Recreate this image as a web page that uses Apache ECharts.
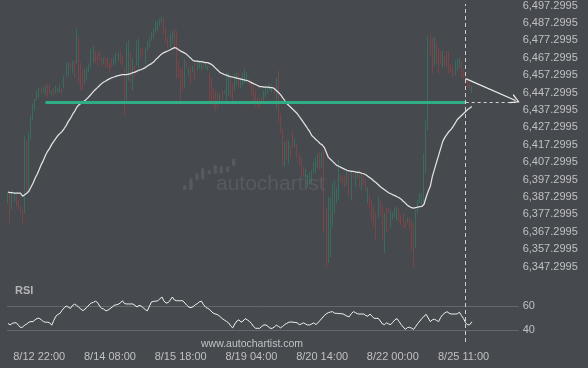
<!DOCTYPE html>
<html>
<head>
<meta charset="utf-8">
<script src="https://cdn.jsdelivr.net/npm/echarts@6/dist/echarts.min.js"></script>
<style>
html,body{margin:0;padding:0;background:#46494e;}
#c{width:588px;height:368px;}
</style>
</head>
<body>
<div id="c"></div>
<script>
// ---- data (hourly bars) ----
const opens = [
6383.7,6389.4,6380.2,6384.2,6388.3,6385.4,6381.9,6379.7,6377.9,6419.8,
6391.1,6419.8,6431.2,6437.0,6442.7,6444.4,6450.7,6447.3,6445.6,6452.4,
6451.9,6445.6,6449.6,6446.7,6447.3,6447.3,6449.6,6449.6,6455.9,6457.0,
6464.5,6458.2,6465.6,6463.9,6478.8,6464.5,6459.9,6452.4,6454.2,6458.7,
6461.6,6464.5,6471.3,6470.2,6471.3,6467.3,6463.9,6467.3,6467.3,6464.5,
6466.8,6462.7,6463.9,6465.6,6471.3,6468.5,6461.6,6442.7,6454.2,6470.2,
6448.4,6462.7,6462.7,6461.6,6473.1,6472.5,6463.9,6471.3,6473.1,6477.1,
6478.8,6481.7,6482.8,6485.7,6487.4,6490.3,6484.5,6478.8,6473.1,6475.4,
6484.0,6482.8,6465.6,6461.6,6461.0,6450.1,6465.6,6457.0,6461.6,6458.7,
6464.5,6459.9,6461.0,6459.9,6465.6,6461.0,6459.9,6458.7,6455.9,6450.1,
6448.4,6447.3,6441.5,6448.4,6446.7,6442.7,6445.6,6455.9,6452.4,6448.4,
6451.3,6458.7,6449.6,6451.3,6452.4,6453.0,6455.3,6454.2,6451.3,6448.4,
6444.4,6443.8,6444.4,6442.7,6444.4,6446.7,6448.4,6447.3,6451.3,6438.1,
6459.9,6435.2,6426.6,6404.3,6419.8,6406.6,6416.9,6425.5,6415.8,6418.0,
6412.3,6410.0,6404.3,6398.0,6392.8,6394.0,6395.7,6400.9,6400.9,6403.7,
6412.9,6404.3,6414.0,6380.8,6349.3,6352.7,6369.9,6377.9,6383.7,6385.4,
6399.7,6399.7,6399.7,6394.0,6400.9,6385.4,6401.4,6392.8,6398.0,6402.6,
6391.1,6400.9,6398.0,6383.7,6388.3,6385.4,6382.5,6378.5,6375.1,6385.4,
6382.5,6355.0,6380.8,6381.4,6369.9,6373.9,6375.6,6373.9,6380.8,6376.8,
6377.9,6373.9,6372.2,6375.1,6373.9,6372.2,6357.9,6377.9,6383.7,6382.5,
6383.7,6400.9,6425.5,6481.1,6478.8,6462.7,6475.9,6472.5,6471.3,6461.6,
6468.5,6471.3,6471.3,6463.9,6462.7,6457.0,6459.9,6461.6,6465.6,6461.0,
6458.7,6454.7,6453.0,6446.7];

const closes = [
6390.0,6372.2,6391.1,6390.0,6381.9,6380.2,6377.9,6371.6,6422.1,6390.0,
6424.3,6434.1,6441.0,6443.8,6448.4,6450.1,6446.7,6450.1,6451.3,6444.4,
6446.7,6448.4,6445.6,6451.3,6450.1,6451.9,6446.7,6457.0,6464.5,6464.5,
6461.0,6465.6,6455.9,6484.0,6452.4,6448.4,6448.4,6461.0,6461.6,6463.9,
6472.5,6474.2,6463.9,6462.7,6465.6,6462.7,6467.3,6461.6,6461.6,6458.7,
6461.6,6467.3,6470.2,6470.2,6463.9,6462.7,6434.1,6475.9,6477.1,6453.0,
6466.8,6455.9,6477.1,6478.2,6466.8,6468.5,6473.1,6477.1,6478.2,6482.2,
6484.0,6488.5,6488.5,6489.7,6490.8,6481.1,6475.9,6473.1,6481.1,6482.8,
6472.5,6455.3,6455.9,6442.7,6448.4,6466.8,6461.6,6461.6,6452.4,6462.7,
6454.2,6465.6,6465.6,6465.6,6461.6,6464.5,6462.7,6442.7,6441.0,6438.7,
6437.0,6438.1,6446.7,6442.7,6448.4,6458.7,6458.7,6444.4,6441.0,6458.2,
6458.7,6450.1,6455.9,6458.7,6461.0,6458.7,6451.3,6445.6,6442.7,6439.8,
6438.7,6438.1,6441.5,6448.4,6451.3,6450.1,6452.4,6451.3,6446.7,6455.9,
6430.1,6423.8,6405.4,6418.6,6408.3,6419.8,6409.5,6415.2,6420.9,6409.5,
6405.4,6399.7,6398.6,6403.7,6399.7,6401.4,6402.6,6407.2,6410.0,6412.3,
6402.6,6412.9,6367.0,6347.0,6387.1,6387.1,6395.1,6396.8,6392.8,6408.3,
6395.7,6395.1,6392.8,6402.6,6387.1,6402.6,6398.0,6401.4,6402.6,6392.8,
6400.9,6394.0,6390.0,6392.8,6380.8,6373.9,6369.9,6362.5,6387.1,6376.8,
6362.5,6377.9,6367.0,6377.9,6379.7,6378.5,6380.8,6381.9,6372.8,6371.1,
6369.3,6369.3,6375.6,6368.2,6356.7,6347.0,6379.7,6385.4,6389.4,6389.4,
6412.3,6431.2,6479.9,6468.5,6458.2,6479.4,6463.9,6458.7,6463.9,6471.3,
6462.7,6461.6,6458.2,6458.7,6455.9,6465.6,6466.8,6467.3,6455.9,6455.3,
6452.4,6450.1,6448.4,6451.3];

const maValues = [
6390.0,6389.7,6389.7,6389.4,6389.4,6389.4,6389.4,6387.7,6388.5,6389.4,
6390.5,6392.8,6395.1,6398.0,6400.3,6403.1,6406.0,6408.3,6411.2,6413.5,
6415.2,6417.5,6419.2,6420.9,6422.6,6423.8,6424.9,6426.6,6428.4,6430.7,
6432.4,6434.7,6436.4,6438.7,6440.1,6441.0,6441.8,6442.7,6443.8,6445.0,
6446.4,6447.8,6449.0,6450.1,6451.3,6452.4,6453.3,6453.9,6454.7,6455.3,
6455.9,6456.2,6456.7,6457.0,6457.3,6457.6,6457.6,6457.6,6457.9,6458.2,
6458.7,6459.0,6459.6,6460.2,6460.5,6461.0,6461.6,6462.5,6463.3,6463.9,
6464.8,6466.2,6467.3,6468.5,6469.6,6470.2,6470.8,6471.3,6471.9,6472.5,
6473.1,6472.8,6471.9,6471.1,6470.5,6469.9,6469.1,6467.9,6466.8,6465.6,
6465.3,6465.3,6465.0,6465.0,6464.8,6464.5,6464.5,6463.9,6463.3,6462.2,
6461.0,6459.9,6458.7,6458.2,6457.6,6457.3,6456.7,6456.4,6456.2,6455.9,
6455.6,6455.3,6455.0,6454.7,6454.4,6454.2,6453.6,6453.0,6452.4,6451.9,
6451.3,6450.7,6450.7,6450.4,6450.4,6450.4,6450.1,6450.1,6449.6,6448.4,
6447.3,6446.1,6444.4,6442.7,6441.0,6439.8,6438.7,6437.5,6436.4,6435.2,
6433.5,6431.8,6430.1,6428.4,6426.6,6424.9,6422.6,6421.5,6420.3,6419.2,
6418.0,6417.2,6415.8,6412.9,6410.0,6408.9,6407.7,6406.6,6405.4,6404.9,
6404.3,6403.7,6403.1,6402.6,6402.3,6402.0,6402.0,6401.7,6401.4,6401.4,
6400.9,6400.6,6400.0,6399.1,6398.3,6397.4,6396.3,6395.4,6394.3,6393.1,
6392.3,6391.4,6390.5,6389.7,6389.1,6388.5,6388.0,6387.4,6386.8,6386.0,
6384.8,6383.7,6382.5,6381.7,6381.1,6380.8,6381.1,6381.4,6381.7,6381.9,
6383.1,6387.1,6390.5,6393.4,6399.1,6403.1,6407.2,6411.2,6415.2,6419.2,
6421.5,6423.2,6424.9,6426.1,6427.8,6429.8,6431.8,6432.9,6434.1,6435.2,
6436.4,6437.5,6438.4,6439.3];

const rsiValues = [
45.5,44.2,45.5,46,46,44,42,42.5,44,45,
46.5,47,47,48.5,49.7,49.7,48.5,47,46.5,46.5,
46,44,48,51.5,53,53.9,56.5,58.5,60,59,
58,60.5,61.5,60.5,59,57.5,56.1,57.5,59,61,
62.5,63,64,63,60,58,57.5,56,56.5,57.8,
59,60.5,61,61.5,62.5,64.4,62,61.7,61.7,61.7,
61.7,60.5,59.2,60.5,60,58.5,57,56,60,63.5,
63.8,64,64.4,66,67.5,64,62.5,62.8,65,67.5,
65,64.4,64.4,64.4,64.4,62.5,60.5,59,58.6,59.5,
61,62,63.5,64,61,59,58,57,55,53.7,
53.2,52.5,51,49.5,48.3,47.2,46,43.5,41.8,45,
47.5,48.5,46.5,47.5,49.5,48.5,47.2,45.5,43,41.4,
41.4,41.4,43,44.2,44.2,43,41.4,41.4,42.5,44,
43,41.8,43,44.5,45.5,46.5,46.7,46.5,46.3,46,
44.5,45,46,45,44.2,44.2,45,46,44.5,46,
48,50,52,53.5,54.5,55,55.3,54,53.9,53.7,
53.6,53.4,52.5,51.5,51,53.5,55.3,54.5,53.5,53.3,
53.3,53.3,52,51.5,53.3,51.5,49.7,49.7,49.7,47.5,
45,44.5,46,45,44.5,46.5,48.5,49.5,47,44.5,
42.5,40.5,42,42.3,41.5,40.5,43,45.5,47.5,49.7,
51.5,53,50,47,48.5,49,48,47,50.5,52.8,
54.2,55.3,54,53.3,53.3,53.3,53.5,54.8,52,49.5,
46,44.2,44.5,46.9];

const priceTicks = [6347.2995,6357.2995,6367.2995,6377.2995,6387.2995,6397.2995,
  6407.2995,6417.2995,6427.2995,6437.2995,6447.2995,6457.2995,6467.2995,
  6477.2995,6487.2995,6497.2995];
const rsiLevels = [40, 60];
const timeLabels = ['8/12 22:00','8/14 08:00','8/15 18:00','8/19 04:00','8/20 14:00','8/22 00:00','8/25 11:00'];
const timeLabelIndex = [15, 49, 83, 117, 151, 185, 219];

// pattern annotation
const supportLevel = 6441.7;
const supportStartIndex = 18;
const currentIndex = 220;
const forecastEndIndex = 244;
const forecastStartPrice = 6455.3;
const forecastEndPrice = 6442.7;
const totalSlots = 246; // bars plus empty space on the right

// ---- build ----
const cats = [];
for (let i = 0; i < totalSlots; i++) cats.push('b' + i);
const ohlc = opens.map((o, i) => [o, closes[i], Math.min(o, closes[i]), Math.max(o, closes[i])]);

const UP = '#1ec283', DOWN = '#f43c3c';
const FONT = 'Liberation Sans, Arial, sans-serif';
const LBL = '#bfc0c2';
const GRID_L = 7, GRID_W = 511.7;

const chart = echarts.init(document.getElementById('c'));
const xBase = {
  type: 'category', data: cats, boundaryGap: true,
  axisLine: {show: false}, axisTick: {show: false}, splitLine: {show: false},
  axisLabel: {show: false}
};
chart.setOption({
  backgroundColor: '#46494e',
  animation: false,
  grid: [
    {left: GRID_L, top: 0, width: GRID_W, height: 279.2},
    {left: GRID_L, top: 294, width: GRID_W, height: 48},
    {left: GRID_L, top: 4, width: GRID_W, height: 338}
  ],
  xAxis: [
    Object.assign({}, xBase, {gridIndex: 0}),
    Object.assign({}, xBase, {gridIndex: 1, axisLabel: {
      show: true, color: LBL, fontSize: 11, fontFamily: FONT, margin: 9,
      interval: (idx) => timeLabelIndex.indexOf(idx) >= 0,
      formatter: (v, idx) => { const k = timeLabelIndex.indexOf(idx); return k >= 0 ? timeLabels[k] : ''; }
    }}),
    Object.assign({}, xBase, {gridIndex: 2})
  ],
  yAxis: [
    {gridIndex: 0, type: 'value', position: 'right', min: 6340, max: 6500,
     axisLine: {show: false}, axisTick: {show: false}, splitLine: {show: false},
     axisLabel: {customValues: priceTicks, color: LBL, fontSize: 11, fontFamily: FONT, margin: 4,
       formatter: (v) => v.toLocaleString('en-US', {minimumFractionDigits: 4, maximumFractionDigits: 4})}},
    {gridIndex: 1, type: 'value', position: 'right', min: 30, max: 70,
     axisLine: {show: false}, axisTick: {show: false}, splitLine: {show: false},
     axisLabel: {customValues: rsiLevels, color: LBL, fontSize: 11, fontFamily: FONT, margin: 4}},
    {gridIndex: 2, type: 'value', min: 0, max: 1, show: false}
  ],
  series: [
    {
      type: 'candlestick', xAxisIndex: 0, yAxisIndex: 0, data: ohlc,
      barWidth: 1.2,
      itemStyle: {color: UP, color0: DOWN, borderColor: UP, borderColor0: DOWN, borderWidth: 0.3}
    },
    {
      type: 'line', xAxisIndex: 0, yAxisIndex: 0, data: maValues, symbol: 'none',
      lineStyle: {color: '#e3e3e3', width: 1.25}, z: 3,
      markLine: {
        silent: true, symbol: ['none', 'none'], label: {show: false}, z: 5,
        data: [
          [{coord: [supportStartIndex, supportLevel], lineStyle: {color: '#2fae86', width: 3, type: 'solid'}},
           {coord: [currentIndex, supportLevel]}],
          [{coord: [currentIndex, supportLevel], lineStyle: {color: '#d2d2d2', width: 1, type: [3, 3]}},
           {coord: [forecastEndIndex, supportLevel]}],
          [{coord: [currentIndex, forecastStartPrice], lineStyle: {color: '#eeeeee', width: 1.2, type: 'solid'}},
           {coord: [forecastEndIndex, forecastEndPrice], symbol: 'path://M0,10 L5,0 L10,10 L8.6,10 L5,2.6 L1.4,10 Z', symbolSize: [10, 9]}]
        ]
      }
    },
    {
      type: 'line', xAxisIndex: 1, yAxisIndex: 1, data: rsiValues, symbol: 'none',
      lineStyle: {color: '#f2f2f2', width: 1}, z: 3,
      markLine: {
        silent: true, symbol: ['none', 'none'], label: {show: false}, z: 1,
        lineStyle: {color: '#63666b', width: 1, type: 'solid'},
        data: rsiLevels.map(v => ({yAxis: v}))
      }
    },
    {
      type: 'line', xAxisIndex: 2, yAxisIndex: 2, data: [[currentIndex, 0.5]], symbol: 'none',
      lineStyle: {width: 0},
      markLine: {
        silent: true, symbol: ['none', 'none'], label: {show: false},
        lineStyle: {color: '#cfcfcf', width: 1, type: [4, 3]},
        data: [{xAxis: currentIndex}]
      }
    }
  ],
  graphic: [
    {type: 'text', left: 15, top: 285, style: {text: 'RSI', fill: '#b4b5b7', font: 'bold 11px ' + FONT}},
    {type: 'text', left: 201, top: 339, style: {text: 'www.autochartist.com', fill: '#c2c3c5', font: '10.5px ' + FONT}},
    {type: 'text', left: 216, top: 174, z: -1, style: {text: 'autochartist', fill: 'rgba(255,255,255,0.09)', font: '21px ' + FONT}},
    {type: 'group', z: -1, children: [
      {type: 'rect', shape: {x: 183, y: 185, width: 3.4, height: 5, r: 1.5}, style: {fill: 'rgba(255,255,255,0.09)'}},
      {type: 'rect', shape: {x: 189.3, y: 178, width: 3.4, height: 12, r: 1.5}, style: {fill: 'rgba(255,255,255,0.09)'}},
      {type: 'rect', shape: {x: 195.3, y: 173, width: 3.4, height: 7.5, r: 1.5}, style: {fill: 'rgba(255,255,255,0.09)'}},
      {type: 'rect', shape: {x: 201, y: 168, width: 3.4, height: 11.5, r: 1.5}, style: {fill: 'rgba(255,255,255,0.09)'}},
      {type: 'rect', shape: {x: 207.5, y: 170, width: 3.4, height: 4.5, r: 1.5}, style: {fill: 'rgba(255,255,255,0.09)'}},
      {type: 'rect', shape: {x: 213.5, y: 165, width: 3.4, height: 9, r: 1.5}, style: {fill: 'rgba(255,255,255,0.09)'}},
      {type: 'rect', shape: {x: 219.5, y: 166, width: 3.4, height: 7.5, r: 1.5}, style: {fill: 'rgba(255,255,255,0.09)'}},
      {type: 'rect', shape: {x: 226, y: 166, width: 3.4, height: 6, r: 1.5}, style: {fill: 'rgba(255,255,255,0.09)'}},
      {type: 'rect', shape: {x: 232, y: 158.5, width: 3.4, height: 7.5, r: 1.5}, style: {fill: 'rgba(255,255,255,0.09)'}}
    ]}
  ]
});
</script>
</body>
</html>
